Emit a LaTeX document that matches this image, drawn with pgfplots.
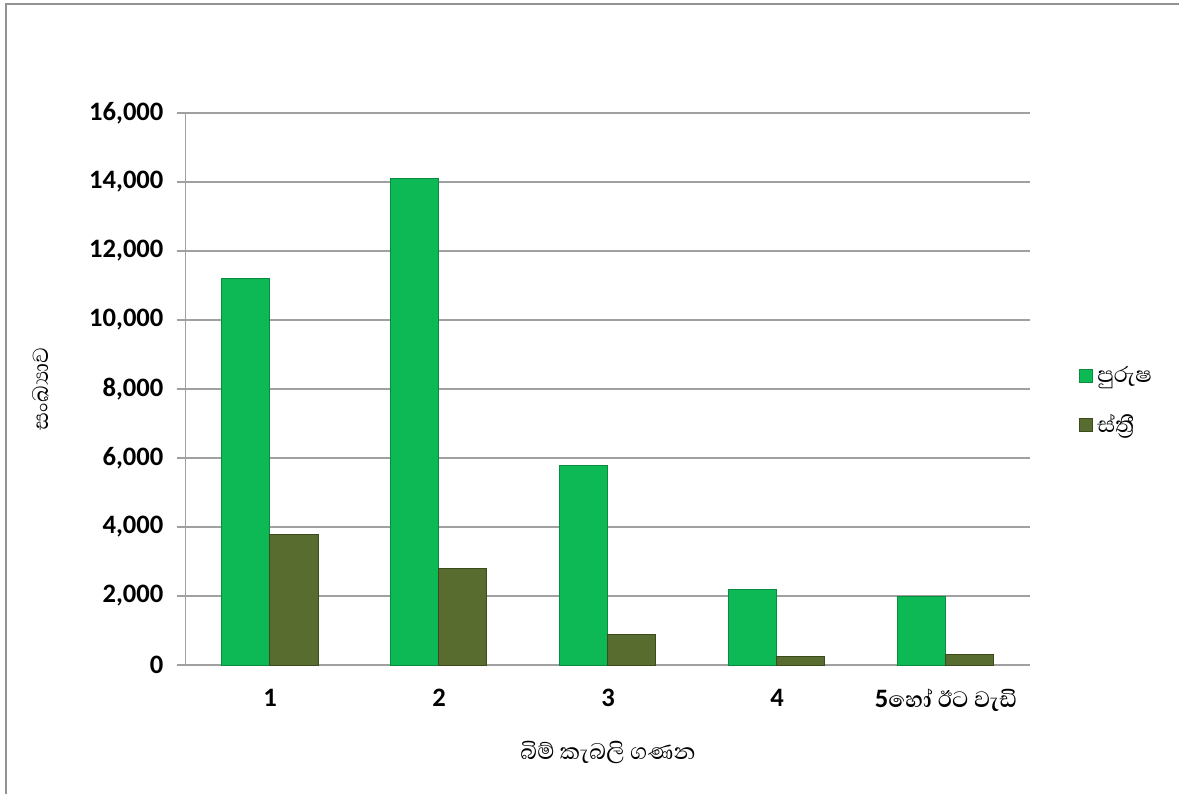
\documentclass[border=0pt]{standalone}
\usepackage{fontspec}
\usepackage{pgfplots}
\pgfplotsset{compat=1.18}
\setmainfont{Carlito}
\newfontfamily\sinhala[Script=Sinhala]{Abhaya Libre}
\definecolor{mgreen}{RGB}{12,185,84}
\definecolor{mgreenD}{RGB}{8,140,62}
\definecolor{molive}{RGB}{88,108,48}
\definecolor{moliveD}{RGB}{60,75,30}
\definecolor{gridgray}{RGB}{160,160,160}
\begin{document}
\begin{tikzpicture}
\path[use as bounding box] (0,0) rectangle (589.5pt,397pt);
\draw[gray!85, line width=1.2pt] (3pt,0) -- (3pt,395pt) -- (589.5pt,395pt);
\begin{axis}[
  at={(92.75pt,64.5pt)}, anchor=south west,
  scale only axis, width=422.5pt, height=276pt,
  ybar=0pt, bar width=24pt,
  xmin=-0.5, xmax=4.5, ymin=0, ymax=16000,
  xtick=data,
  xticklabels={\bfseries 1,\bfseries 2,\bfseries 3,\bfseries 4,{\bfseries 5\sinhala\fontsize{14.3}{15}\selectfont හෝ ඊට වැඩි}},
  ytick={0,2000,...,16000},
  /pgf/number format/assume math mode=true,
  /pgf/number format/1000 sep={,},
  scaled y ticks=false,
  yticklabel style={font=\fontsize{13.3}{14}\selectfont\bfseries, xshift=-3pt},
  xticklabel style={font=\fontsize{13.3}{14}\selectfont, yshift=-4pt},
  major x tick style={draw=none},
  ytick pos=left, tick align=outside, major tick length=4.5pt,
  tick style={gridgray, line width=0.6pt},
  axis lines*=left,
  axis line style={gridgray, line width=0.6pt},
  ymajorgrids, grid style={gridgray, line width=0.6pt},
  xlabel={\sinhala බිම් කැබලි ගණන},
  ylabel={\sinhala සංඛ්‍යාව},
  xlabel style={font=\fontsize{14.3}{15}\selectfont, at={(0.5,0)}, yshift=-34.5pt},
  ylabel style={font=\fontsize{14}{15}\selectfont, at={(0,0.5)}, yshift=64.5pt},
  legend style={at={(1.05,0.556)}, anchor=north west, draw=none, fill=none,
    font=\sinhala\fontsize{14}{15}\selectfont, row sep=10.5pt,
    /tikz/every even column/.append style={column sep=2pt}},
  legend cell align=left,
  legend image code/.code={\fill[#1] (0pt,-3.3pt) rectangle (6.6pt,3.3pt);},
]
\addplot[fill=mgreen, draw=mgreenD, line width=0.5pt] coordinates {(0,11200) (1,14090) (2,5770) (3,2200) (4,2000)};
\addplot[fill=molive, draw=moliveD, line width=0.5pt] coordinates {(0,3770) (1,2810) (2,870) (3,240) (4,290)};
\legend{පුරුෂ, ස්ත්‍රී}
\end{axis}
\end{tikzpicture}
\end{document}
